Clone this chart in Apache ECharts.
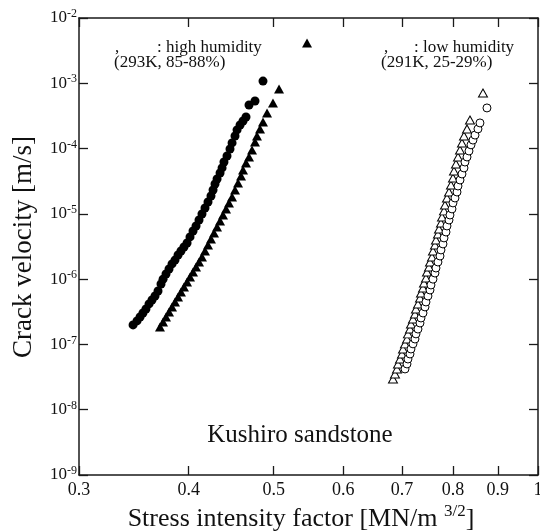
<!DOCTYPE html>
<html>
<head>
<meta charset="utf-8">
<script src="https://cdn.jsdelivr.net/npm/echarts@6/dist/echarts.min.js"></script>
<style>
  html, body { margin: 0; padding: 0; background: #fff; }
  #chart { width: 540px; height: 532px; }
</style>
</head>
<body>
<div id="chart"></div>
<script>
// tick values
var xTicks = [0.3, 0.4, 0.5, 0.6, 0.7, 0.8, 0.9, 1];
var yTicks = [1e-9, 1e-8, 1e-7, 1e-6, 1e-5, 1e-4, 1e-3, 1e-2];

// high humidity (293K, 85-88%), filled circles
var highCircleK = [0.3457, 0.3493, 0.3521, 0.3548, 0.3576, 0.3605, 0.3633, 0.3662, 0.3691, 0.3720,
  0.3740, 0.3769, 0.3799, 0.3829, 0.3859, 0.3890, 0.3920, 0.3951, 0.3983, 0.4014,
  0.4046, 0.4078, 0.4110, 0.4142, 0.4175, 0.4208, 0.4241, 0.4264, 0.4286, 0.4309,
  0.4343, 0.4366, 0.4388, 0.4423, 0.4458, 0.4482, 0.4517, 0.4541, 0.4577, 0.4613,
  0.4649, 0.4686, 0.4760, 0.4861];
var highCircleV = [1.99e-7, 2.29e-7, 2.63e-7, 3.03e-7, 3.49e-7, 4.17e-7, 4.80e-7, 5.52e-7, 6.59e-7, 8.43e-7,
  1.00e-6, 1.20e-6, 1.43e-6, 1.71e-6, 1.96e-6, 2.34e-6, 2.70e-6, 3.11e-6, 3.58e-6, 4.43e-6,
  5.47e-6, 6.52e-6, 8.05e-6, 9.95e-6, 1.23e-5, 1.52e-5, 1.88e-5, 2.32e-5, 2.87e-5, 3.42e-5,
  4.23e-5, 5.05e-5, 6.22e-5, 7.69e-5, 9.86e-5, 1.22e-4, 1.56e-4, 1.93e-4, 2.30e-4, 2.64e-4,
  3.05e-4, 4.65e-4, 5.36e-4, 1.08e-3];

// high humidity, filled triangles
var highTriK = [0.3710, 0.3740, 0.3769, 0.3799, 0.3829, 0.3859, 0.3890, 0.3920, 0.3951, 0.3983,
  0.4014, 0.4046, 0.4078, 0.4110, 0.4142, 0.4175, 0.4208, 0.4241, 0.4275, 0.4309,
  0.4343, 0.4377, 0.4412, 0.4446, 0.4482, 0.4517, 0.4553, 0.4589, 0.4613, 0.4649,
  0.4686, 0.4723, 0.4760, 0.4785, 0.4823, 0.4861, 0.4913, 0.4990, 0.5070, 0.5456];
var highTriV = [1.85e-7, 2.21e-7, 2.63e-7, 3.14e-7, 3.75e-7, 4.47e-7, 5.33e-7, 6.35e-7, 7.59e-7, 9.06e-7,
  1.08e-6, 1.29e-6, 1.53e-6, 1.83e-6, 2.18e-6, 2.70e-6, 3.33e-6, 4.12e-6, 5.09e-6, 6.30e-6,
  7.78e-6, 9.61e-6, 1.19e-5, 1.47e-5, 1.81e-5, 2.32e-5, 2.97e-5, 3.80e-5, 4.70e-5, 6.01e-5,
  7.43e-5, 9.51e-5, 1.26e-4, 1.56e-4, 2.00e-4, 2.55e-4, 3.51e-4, 4.99e-4, 8.18e-4, 4.14e-3];

// low humidity (291K, 25-29%), open triangles
var lowTriK = [0.6836, 0.6872, 0.6908, 0.6926, 0.6963, 0.6999, 0.7018, 0.7055, 0.7092, 0.7110,
  0.7148, 0.7166, 0.7204, 0.7242, 0.7261, 0.7299, 0.7338, 0.7357, 0.7396, 0.7415,
  0.7454, 0.7474, 0.7513, 0.7533, 0.7572, 0.7592, 0.7632, 0.7652, 0.7692, 0.7713,
  0.7753, 0.7774, 0.7815, 0.7835, 0.7876, 0.7918, 0.7959, 0.8001, 0.8022, 0.8064,
  0.8107, 0.8150, 0.8192, 0.8235, 0.8301, 0.8366, 0.8656];
var lowTriV = [2.96e-8, 3.53e-8, 4.21e-8, 5.02e-8, 5.98e-8, 7.14e-8, 8.51e-8, 1.02e-7, 1.21e-7, 1.45e-7,
  1.72e-7, 2.06e-7, 2.45e-7, 2.93e-7, 3.49e-7, 4.17e-7, 5.14e-7, 6.14e-7, 7.32e-7, 8.73e-7,
  1.04e-6, 1.29e-6, 1.53e-6, 1.83e-6, 2.18e-6, 2.70e-6, 3.33e-6, 3.98e-6, 4.92e-6, 5.86e-6,
  7.24e-6, 8.95e-6, 1.11e-5, 1.37e-5, 1.75e-5, 2.16e-5, 2.77e-5, 3.54e-5, 4.54e-5, 5.81e-5,
  7.43e-5, 9.51e-5, 1.22e-4, 1.56e-4, 2.00e-4, 2.74e-4, 7.11e-4];

// low humidity, open circles
var lowCircleK = [0.7055, 0.7092, 0.7110, 0.7148, 0.7166, 0.7204, 0.7242, 0.7261, 0.7299, 0.7338,
  0.7357, 0.7396, 0.7435, 0.7454, 0.7493, 0.7533, 0.7552, 0.7592, 0.7632, 0.7652,
  0.7692, 0.7733, 0.7753, 0.7794, 0.7815, 0.7856, 0.7876, 0.7918, 0.7938, 0.7980,
  0.8001, 0.8043, 0.8086, 0.8107, 0.8150, 0.8192, 0.8235, 0.8257, 0.8301, 0.8344,
  0.8388, 0.8432, 0.8477, 0.8543, 0.8588, 0.8747];
var lowCircleV = [4.21e-8, 5.02e-8, 5.98e-8, 7.14e-8, 8.51e-8, 1.02e-7, 1.21e-7, 1.45e-7, 1.72e-7, 2.13e-7,
  2.54e-7, 3.03e-7, 3.75e-7, 4.47e-7, 5.52e-7, 6.82e-7, 8.14e-7, 1.00e-6, 1.24e-6, 1.48e-6,
  1.83e-6, 2.26e-6, 2.80e-6, 3.46e-6, 4.28e-6, 5.27e-6, 6.52e-6, 8.05e-6, 9.61e-6, 1.19e-5,
  1.47e-5, 1.75e-5, 2.16e-5, 2.67e-5, 3.30e-5, 4.08e-5, 5.05e-5, 6.22e-5, 7.43e-5, 9.18e-5,
  1.14e-4, 1.35e-4, 1.61e-4, 2.00e-4, 2.47e-4, 4.19e-4];

var FONT = '"Liberation Serif", "Times New Roman", serif';
var INK = "#111";

function zip(xs, ys) {
  return xs.map(function(x, i) { return [x, ys[i]]; });
}

var chart = echarts.init(document.getElementById("chart"), null, { renderer: "canvas" });

var xBase = {
  type: "log",
  logBase: 10,
  min: 0.3,
  max: 1,
  axisLine: { show: true, lineStyle: { color: "#1a1a1a", width: 1.5 } },
  axisTick: { show: true, inside: true, length: 9, customValues: xTicks, lineStyle: { color: "#1a1a1a", width: 1.3 } },
  splitLine: { show: false }
};
var yBase = {
  type: "log",
  logBase: 10,
  min: 1e-9,
  max: 1e-2,
  axisLine: { show: true, lineStyle: { color: "#1a1a1a", width: 1.5 } },
  axisTick: { show: true, inside: true, length: 9, customValues: yTicks, lineStyle: { color: "#1a1a1a", width: 1.3 } },
  splitLine: { show: false }
};

chart.setOption({
  animation: false,
  backgroundColor: "#fff",
  grid: { left: 79, right: 2, top: 18, bottom: 57, outerBoundsMode: "none", containLabel: false },
  xAxis: [
    Object.assign({}, xBase, {
      position: "bottom",
      axisLabel: {
        customValues: xTicks,
        margin: 6,
        fontFamily: FONT,
        fontSize: 18,
        color: INK,
        formatter: function(v) { return String(+v.toFixed(2)); }
      }
    }),
    Object.assign({}, xBase, { position: "top", axisLabel: { show: false } })
  ],
  yAxis: [
    Object.assign({}, yBase, {
      position: "left",
      axisLabel: {
        customValues: yTicks,
        margin: 2,
        formatter: function(v) {
          return "{b|10}{s|" + Math.round(Math.log10(v)) + "}";
        },
        rich: {
          b: { fontFamily: FONT, fontSize: 17, lineHeight: 20, color: INK },
          s: { fontFamily: FONT, fontSize: 12, lineHeight: 10, verticalAlign: "top", color: INK }
        }
      }
    }),
    Object.assign({}, yBase, { position: "right", axisLabel: { show: false } })
  ],
  series: [
    {
      type: "scatter",
      symbol: "circle",
      symbolSize: 9,
      itemStyle: { color: "#000", opacity: 1 },
      data: zip(highCircleK, highCircleV)
    },
    {
      type: "scatter",
      symbol: "triangle",
      symbolSize: [10, 9],
      itemStyle: { color: "#000", opacity: 1 },
      data: zip(highTriK, highTriV)
    },
    {
      type: "scatter",
      symbol: "triangle",
      symbolSize: [9, 8],
      itemStyle: { color: "#fff", borderColor: "#000", borderWidth: 1, opacity: 1 },
      data: zip(lowTriK, lowTriV)
    },
    {
      type: "scatter",
      symbol: "circle",
      symbolSize: 8,
      itemStyle: { color: "#fff", borderColor: "#000", borderWidth: 1, opacity: 1 },
      data: zip(lowCircleK, lowCircleV)
    }
  ],
  graphic: [
    { type: "text", x: 115, y: 48, style: { text: ",", font: "17px " + FONT, fill: INK, verticalAlign: "middle" } },
    { type: "text", x: 157, y: 48, style: { text: ": high humidity", font: "17px " + FONT, fill: INK, verticalAlign: "middle" } },
    { type: "text", x: 114, y: 63, style: { text: "(293K, 85-88%)", font: "17px " + FONT, fill: INK, verticalAlign: "middle" } },
    { type: "text", x: 384, y: 48, style: { text: ",", font: "17px " + FONT, fill: INK, verticalAlign: "middle" } },
    { type: "text", x: 414, y: 48, style: { text: ": low humidity", font: "17px " + FONT, fill: INK, verticalAlign: "middle" } },
    { type: "text", x: 381, y: 63, style: { text: "(291K, 25-29%)", font: "17px " + FONT, fill: INK, verticalAlign: "middle" } },
    { type: "text", x: 300, y: 435, style: { text: "Kushiro sandstone", font: "25px " + FONT, fill: INK, align: "center", verticalAlign: "middle" } },
    {
      type: "text", x: 24, y: 247, rotation: Math.PI / 2,
      style: { text: "Crack velocity [m/s]", font: "27px " + FONT, fill: INK, align: "center", verticalAlign: "middle" }
    },
    {
      type: "text", x: 301, y: 519,
      style: {
        text: "{a|Stress intensity factor [MN/m }{s|3/2}{a|]}",
        align: "center",
        verticalAlign: "middle",
        rich: {
          a: { fontFamily: FONT, fontSize: 26, lineHeight: 32, fill: INK },
          s: { fontFamily: FONT, fontSize: 17, lineHeight: 8, verticalAlign: "top", fill: INK }
        }
      }
    }
  ]
});
</script>
</body>
</html>
